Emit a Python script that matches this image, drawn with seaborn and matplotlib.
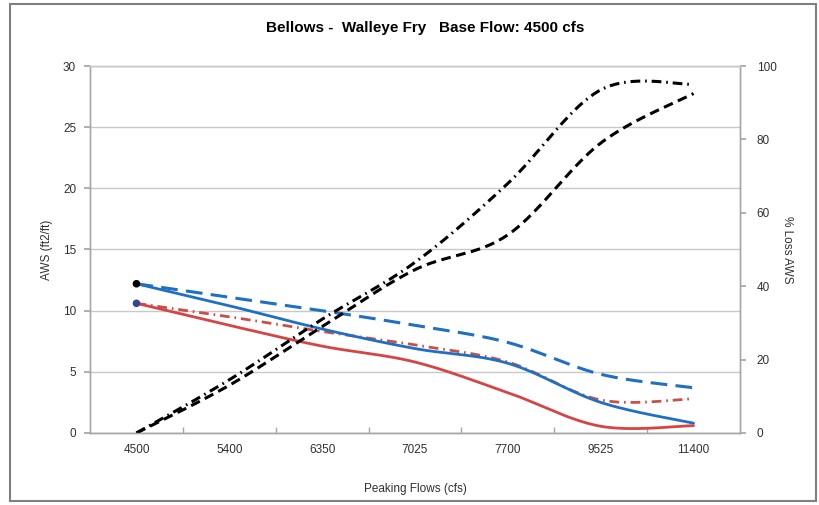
import numpy as np
import pandas as pd
import seaborn as sns
import matplotlib.pyplot as plt
from matplotlib.patches import Rectangle

# values
flows = ["4500", "5400", "6350", "7025", "7700", "9525", "11400"]
aws_blue = [12.2, 10.4, 8.5, 6.9, 5.7, 2.5, 0.8]
aws_blue_dash = [12.2, 11.1, 10.0, 8.8, 7.4, 4.8, 3.7]
aws_red = [10.6, 8.8, 7.1, 5.8, 3.3, 0.55, 0.6]
aws_red_dashdot = [10.6, 9.5, 8.3, 7.2, 5.8, 2.7, 2.8]
loss_dash = [0, 13, 29, 44.5, 54, 79, 92.5]
loss_dashdot = [0, 14.5, 31, 46.5, 68, 93.5, 95]


def smooth(values, n=40):
    # Excel-style smoothed line: cubic bezier through each pair of points
    pts = np.column_stack([np.arange(len(values), dtype=float), np.asarray(values, float)])
    t = np.linspace(0, 1, n)[:, None]
    out = []
    for i in range(len(pts) - 1):
        p0, p3 = pts[i], pts[i + 1]
        prev = pts[i - 1] if i > 0 else pts[i]
        nxt = pts[i + 2] if i + 2 < len(pts) else pts[i + 1]
        c1 = p0 + (p3 - prev) / 6
        c2 = p3 - (nxt - p0) / 6
        seg = (1 - t) ** 3 * p0 + 3 * (1 - t) ** 2 * t * c1 + 3 * (1 - t) * t ** 2 * c2 + t ** 3 * p3
        out.append(seg if i == 0 else seg[1:])
    seg = np.vstack(out)
    return pd.DataFrame({"x": seg[:, 0], "y": seg[:, 1]})


sns.set_theme(style="white")
plt.rcParams["font.family"] = ["Liberation Sans", "DejaVu Sans"]
plt.rcParams["lines.scale_dashes"] = False

fig = plt.figure(figsize=(8.2, 5.05), dpi=100)
ax = fig.add_axes([0.1098, 0.1426, 0.7926, 0.7267])
ax2 = ax.twinx()

blue = "#1f70c4"
red = "#d64545"
grey = "#a6a6a6"

sns.lineplot(data=smooth(aws_blue_dash), x="x", y="y", ax=ax, sort=False, estimator=None,
             color=blue, linewidth=2.2, linestyle=(0, (12, 6)))
sns.lineplot(data=smooth(aws_red_dashdot), x="x", y="y", ax=ax, sort=False, estimator=None,
             color="#c8504a", linewidth=2.0, linestyle=(0, (7, 3.5, 1.2, 3.5)))
sns.lineplot(data=smooth(aws_blue), x="x", y="y", ax=ax, sort=False, estimator=None,
             color=blue, linewidth=2.0)
sns.lineplot(data=smooth(aws_red), x="x", y="y", ax=ax, sort=False, estimator=None,
             color=red, linewidth=2.0)
sns.scatterplot(x=[0], y=[aws_blue[0]], ax=ax, color="black", s=30, zorder=5, edgecolor="none")
sns.scatterplot(x=[0], y=[aws_red[0]], ax=ax, color="#34468c", s=30, zorder=5, edgecolor="none")

sns.lineplot(data=smooth(loss_dashdot), x="x", y="y", ax=ax2, sort=False, estimator=None,
             color="black", linewidth=2.2, linestyle=(0, (7, 3.5, 1.2, 3.5)))
sns.lineplot(data=smooth(loss_dash), x="x", y="y", ax=ax2, sort=False, estimator=None,
             color="black", linewidth=2.2, linestyle=(0, (7, 4)))

ax.set_xlim(-0.5, len(flows) - 0.5)
ax.set_ylim(0, 30)
ax.set_yticks(range(0, 31, 5))
ax.set_xticks(range(len(flows)))
ax.set_xticklabels(flows)
ax.set_xticks(np.arange(0.5, len(flows) - 1, 1.0), minor=True)
ax2.set_ylim(0, 100)
ax2.set_yticks(range(0, 101, 20))

ax.grid(axis="y", color="#c8c8c8", linewidth=1)
ax.set_axisbelow(True)
for a in (ax, ax2):
    for s in a.spines.values():
        s.set_color(grey)
        s.set_linewidth(1)
    a.spines["top"].set_color("#c8c8c8")

tick_col = "#303030"
ax.tick_params(axis="y", which="major", direction="out", length=4, color=grey,
               labelsize=8.5, labelcolor=tick_col, pad=6)
ax.tick_params(axis="x", which="major", length=0, labelsize=8.5, labelcolor=tick_col, pad=8)
ax.tick_params(axis="x", which="minor", direction="in", length=4, color=grey, bottom=True)
ax2.tick_params(axis="y", direction="out", length=4, color=grey, labelsize=8.5,
                labelcolor=tick_col, pad=8)

ax.set_xlabel("Peaking Flows (cfs)", fontsize=8.5, color=tick_col)
ax.xaxis.set_label_coords(0.5, -0.135)
ax.set_ylabel("AWS (ft2/ft)", fontsize=8.5, color=tick_col)
ax.yaxis.set_label_coords(-0.057, 0.5)
ax2.set_ylabel("% Loss AWS", fontsize=8.5, color=tick_col, rotation=-90)
ax2.yaxis.set_label_coords(1.082, 0.5)

fig.text(0.518, 0.945, "Bellows -  Walleye Fry   Base Flow: 4500 cfs", ha="center", va="center",
         fontsize=11, fontweight="bold", color="black")

fig.patches.append(Rectangle((0.012, 0.008), 0.983, 0.984, transform=fig.transFigure,
                             fill=False, edgecolor="#7f7f7f", linewidth=1.5))

fig.savefig("out.png", dpi=100)
